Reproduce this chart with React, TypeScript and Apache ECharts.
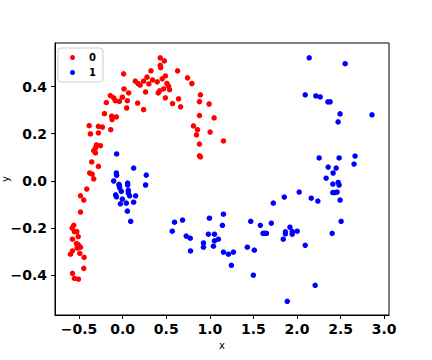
import React, { useEffect, useRef } from "react";
import * as echarts from "echarts";

const class0: [number, number][] = [
  [0.431, 0.522], [0.478, 0.509], [0.431, 0.49], [0.436, 0.48], [0.63, 0.467], [0.325, 0.467],
  [0.011, 0.454], [0.744, 0.437], [0.794, 0.413], [0.49, 0.445], [0.454, 0.433], [0.279, 0.44],
  [0.343, 0.428], [0.24, 0.423], [0.145, 0.423], [0.176, 0.413], [0.2, 0.406], [0.3, 0.411],
  [0.397, 0.42], [0.508, 0.413], [0.527, 0.401], [0.538, 0.387], [0.469, 0.39], [0.424, 0.382],
  [0.408, 0.373], [0.263, 0.377], [0.016, 0.39], [0.069, 0.373], [-0.003, 0.355], [0.054, 0.34],
  [-0.141, 0.362], [-0.103, 0.352], [-0.084, 0.34], [-0.038, 0.337], [-0.187, 0.332], [0.046, 0.309],
  [0.172, 0.33], [0.24, 0.302], [0.49, 0.352], [0.572, 0.328], [0.641, 0.348], [0.664, 0.314],
  [0.892, 0.365], [0.881, 0.336], [0.992, 0.326], [0.881, 0.277], [1.049, 0.267], [0.812, 0.233],
  [0.858, 0.217], [1.003, 0.207], [0.847, 0.195], [0.881, 0.156], [0.881, 0.106], [0.892, 0.101],
  [1.156, 0.169], [-0.209, 0.285], [-0.126, 0.274], [-0.121, 0.26], [-0.072, 0.271], [-0.278, 0.231],
  [-0.232, 0.228], [-0.137, 0.217], [-0.384, 0.234], [-0.278, 0.203], [-0.37, 0.199], [-0.301, 0.152],
  [-0.255, 0.149], [-0.312, 0.139], [-0.332, 0.128], [-0.312, 0.118], [-0.278, 0.061], [-0.355, 0.08],
  [-0.378, 0.033], [-0.35, 0.028], [-0.332, 0.008], [-0.412, -0.035], [-0.484, -0.064], [-0.446, -0.082],
  [-0.484, -0.133], [-0.561, -0.189], [-0.579, -0.201], [-0.553, -0.216], [-0.526, -0.216], [-0.576, -0.248],
  [-0.51, -0.237], [-0.53, -0.267], [-0.51, -0.271], [-0.499, -0.28], [-0.522, -0.286], [-0.484, -0.282],
  [-0.576, -0.298], [-0.598, -0.312], [-0.492, -0.308], [-0.442, -0.325], [-0.446, -0.372], [-0.576, -0.393],
  [-0.553, -0.414], [-0.507, -0.418],
];

const class1: [number, number][] = [
  [-0.069, 0.114], [0.126, 0.054], [-0.072, 0.033], [-0.069, 0.023], [0.271, 0.024], [0.263, -0.018],
  [-0.103, -0.001], [-0.042, -0.015], [-0.038, -0.022], [-0.035, -0.03], [0.057, -0.01], [0.057, -0.018],
  [-0.015, -0.045], [-0.08, -0.06], [-0.072, -0.068], [-0.003, -0.078], [0.065, -0.041], [0.065, -0.052],
  [0.149, -0.064], [0.08, -0.064], [0.042, -0.095], [0.126, -0.091], [-0.026, -0.098], [0.054, -0.129],
  [0.092, -0.172], [0.569, -0.214], [0.595, -0.176], [0.687, -0.167], [0.729, -0.235], [0.775, -0.244],
  [0.778, -0.298], [0.927, -0.264], [0.927, -0.282], [0.995, -0.159], [0.984, -0.227], [1.053, -0.227],
  [1.053, -0.255], [1.041, -0.278], [1.098, -0.248], [1.156, -0.142], [1.144, -0.189], [1.156, -0.303],
  [1.213, -0.312], [1.27, -0.303], [1.247, -0.359], [1.43, -0.282], [1.469, -0.172], [1.51, -0.295],
  [1.499, -0.401], [1.579, -0.189], [1.61, -0.223], [1.63, -0.223], [1.65, -0.223], [1.705, -0.18],
  [1.728, -0.095], [1.854, -0.069], [1.842, -0.248], [1.867, -0.217], [1.867, -0.225], [1.919, -0.197],
  [1.945, -0.216], [1.945, -0.227], [2.002, -0.214], [1.888, -0.512], [2.025, -0.048], [2.094, -0.274],
  [2.163, -0.074], [2.208, -0.444], [2.239, -0.086], [2.334, 0.011], [2.414, 0.033], [2.411, -0.014],
  [2.483, -0.018], [2.472, -0.007], [2.41, -0.05], [2.46, -0.048], [2.435, -0.05], [2.494, -0.082],
  [2.506, -0.172], [2.403, -0.223], [2.14, 0.522], [2.552, 0.497], [2.094, 0.365], [2.216, 0.36],
  [2.266, 0.356], [2.354, 0.335], [2.38, 0.335], [2.494, 0.284], [2.471, 0.25], [2.86, 0.28],
  [2.254, 0.097], [2.483, 0.097], [2.666, 0.105], [2.654, 0.071], [2.357, 0.058], [2.449, 0.054],
];

const xTicks = [-0.5, 0, 0.5, 1.0, 1.5, 2.0, 2.5, 3.0];
const yTicks = [-0.4, -0.2, 0, 0.2, 0.4];
const seriesNames = ["0", "1"];

const fmt = (v: number) => v.toFixed(1).replace("-", "\u2212");

export default function App() {
  const ref = useRef<HTMLDivElement>(null);
  useEffect(() => {
    if (!ref.current) return;
    const chart = echarts.init(ref.current, undefined, { renderer: "svg" });
    const font = "DejaVu Sans";
    chart.setOption({
      animation: false,
      grid: {
        left: 55, top: 43, right: 43, bottom: 45,
        outerBoundsMode: "none", containLabel: false,
        show: true, borderColor: "#000", borderWidth: 1, backgroundColor: "transparent",
      },
      legend: {
        data: seriesNames,
        left: 58, top: 48, orient: "vertical",
        padding: [2, 7, 2, 12],
        itemGap: 0, itemWidth: 5, itemHeight: 5,
        borderColor: "#ccc", borderWidth: 1, borderRadius: 3,
        icon: "circle",
        textStyle: { fontFamily: font, fontWeight: "bold", fontSize: 10, color: "#000", lineHeight: 15, padding: [0, 0, 0, 9] },
      },
      xAxis: {
        type: "value", min: -0.776, max: 3.055,
        name: "x", nameLocation: "middle", nameGap: 25, nameMoveOverlap: false,
        nameTextStyle: { fontFamily: font, fontSize: 10, color: "#000" },
        axisLine: { show: true, onZero: false, lineStyle: { color: "#000" } },
        axisTick: { show: true, length: 4, customValues: xTicks, lineStyle: { color: "#000" } },
        axisLabel: {
          customValues: xTicks, formatter: fmt, margin: 7,
          fontFamily: font, fontWeight: "bold", fontSize: 14, color: "#000",
        },
        splitLine: { show: false },
      },
      yAxis: {
        type: "value", min: -0.57, max: 0.585,
        name: "y", nameLocation: "middle", nameGap: 45, nameRotate: 90, nameMoveOverlap: false,
        nameTextStyle: { fontFamily: font, fontSize: 10, color: "#000" },
        axisLine: { show: true, onZero: false, lineStyle: { color: "#000" } },
        axisTick: { show: true, length: 4, customValues: yTicks, lineStyle: { color: "#000" } },
        axisLabel: {
          customValues: yTicks, formatter: fmt, margin: 8,
          fontFamily: font, fontWeight: "bold", fontSize: 14, color: "#000",
        },
        splitLine: { show: false },
      },
      series: [
        { name: seriesNames[0], type: "scatter", data: class0, symbolSize: 5.5, itemStyle: { color: "#ff0000", opacity: 1 } },
        { name: seriesNames[1], type: "scatter", data: class1, symbolSize: 5.5, itemStyle: { color: "#0000ff", opacity: 1 } },
      ],
    });
    return () => chart.dispose();
  }, []);
  return <div ref={ref} style={{ width: 432, height: 360, position: "absolute", left: 0, top: 0 }} />;
}
